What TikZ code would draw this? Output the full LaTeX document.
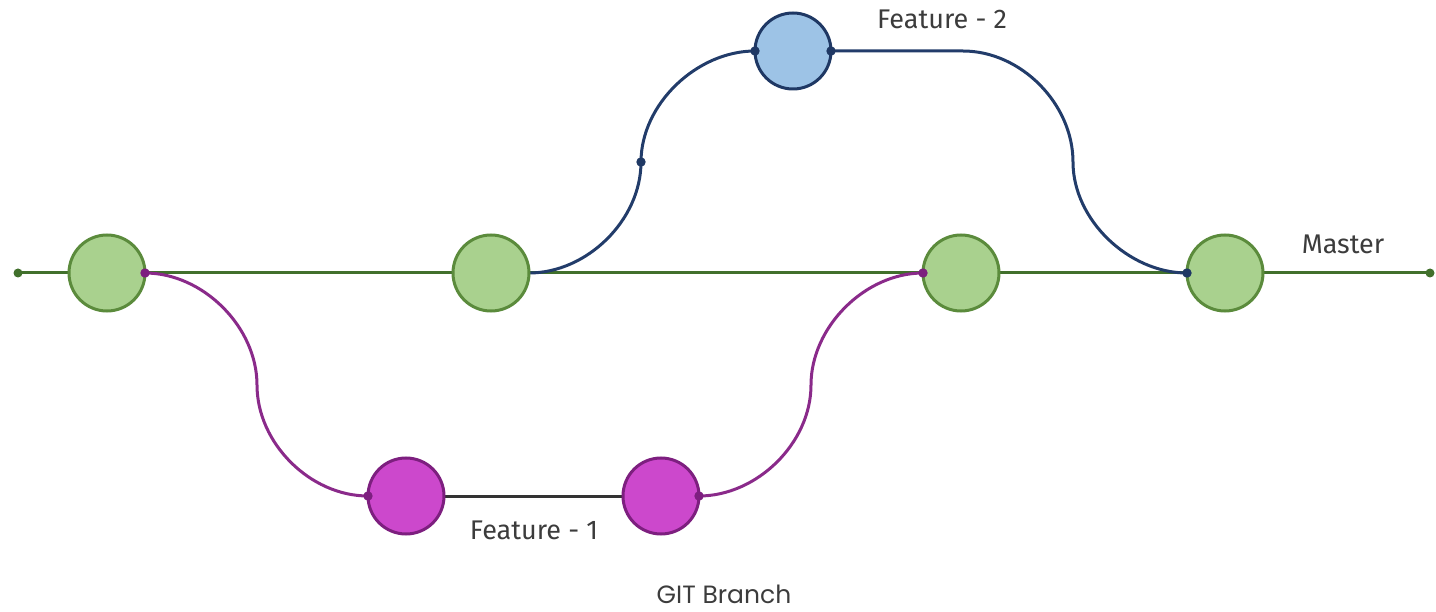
\documentclass[tikz,border=0pt]{standalone}
\usepackage{fontspec}
\setmainfont{Fira Sans}
\newfontfamily\captionfont{Poppins}
\usetikzlibrary{backgrounds}
\definecolor{mfill}{HTML}{A9D18E}
\definecolor{mdraw}{HTML}{5B8B3C}
\definecolor{mline}{HTML}{41702C}
\definecolor{pfill}{HTML}{CC48CC}
\definecolor{pdraw}{HTML}{7D1F7F}
\definecolor{pline}{HTML}{8A2A8A}
\definecolor{bfill}{HTML}{9DC3E6}
\definecolor{bdraw}{HTML}{1F3864}
\definecolor{bline}{HTML}{223C6A}
\definecolor{txt}{HTML}{3C3C3C}
\tikzset{
  commit/.style={circle, minimum size=76pt, inner sep=0pt, outer sep=0pt, line width=3pt},
  mcommit/.style={commit, fill=mfill, draw=mdraw},
  pcommit/.style={commit, fill=pfill, draw=pdraw},
  bcommit/.style={commit, fill=bfill, draw=bdraw},
  branchline/.style={line width=3pt},
  lbl/.style={text=txt, font=\fontsize{27}{30}\selectfont, inner sep=0pt},
}
\begin{document}
\begin{tikzpicture}[x=1pt, y=-1pt]
  \useasboundingbox (0,0) rectangle (1436,612);

  % commits
  \node[mcommit] (g1) at (107,273) {};
  \node[mcommit] (g2) at (491,273) {};
  \node[mcommit] (g3) at (961,273) {};
  \node[mcommit] (g4) at (1225,273) {};
  \node[pcommit] (p1) at (406,496) {};
  \node[pcommit] (p2) at (661,496) {};
  \node[bcommit] (b1) at (793,51) {};

  \coordinate (mL) at (18,273);
  \coordinate (mR) at (1430,273);
  \coordinate (pm1) at (257,385);
  \coordinate (pm2) at (811,385);
  \coordinate (bm1) at (641,162);
  \coordinate (bh) at (963,51);
  \coordinate (bm2) at (1073,162);

  \begin{pgfonlayer}{background}
    % master branch
    \draw[branchline, mline] (mL) -- (mR);
    % feature 1
    \draw[branchline, pline] (g1.east) .. controls +(58,0) and +(0,-58) .. (pm1)
      .. controls +(0,58) and +(-58,0) .. (p1.west);
    \draw[branchline, black!80] (p1) -- (p2);
    \draw[branchline, pline] (p2.east) .. controls +(58,0) and +(0,58) .. (pm2)
      .. controls +(0,-58) and +(-58,0) .. (g3.west);
    % feature 2
    \draw[branchline, bline] (g2.east) .. controls +(58,0) and +(0,58) .. (bm1)
      .. controls +(0,-58) and +(-58,0) .. (b1.west);
    \draw[branchline, bline] (b1.east) -- (bh) .. controls +(58,0) and +(0,-58) .. (bm2)
      .. controls +(0,58) and +(-58,0) .. (g4.west);
  \end{pgfonlayer}

  % junction dots
  \fill[mline] (mL) circle (4.5) (mR) circle (4.5);
  \fill[pdraw] (g1.east) circle (4.7) (g3.west) circle (4.7)
               (p1.west) circle (4.7) (p2.east) circle (4.7);
  \fill[bdraw] (b1.west) circle (4.7) (b1.east) circle (4.7)
               (bm1) circle (4.7) (g4.west) circle (4.7);

  % labels
  \node[lbl] (lf2) at (942,19) {Feature - 2};
  \node[lbl] (lm) at (1343,244) {Master};
  \node[lbl] (lf1) at (534,530) {Feature - 1};
  \node[text=txt, font=\captionfont\fontsize{25}{28}\selectfont, inner sep=0pt, anchor=base] (cap) at (724,603) {GIT Branch};
\end{tikzpicture}
\end{document}
